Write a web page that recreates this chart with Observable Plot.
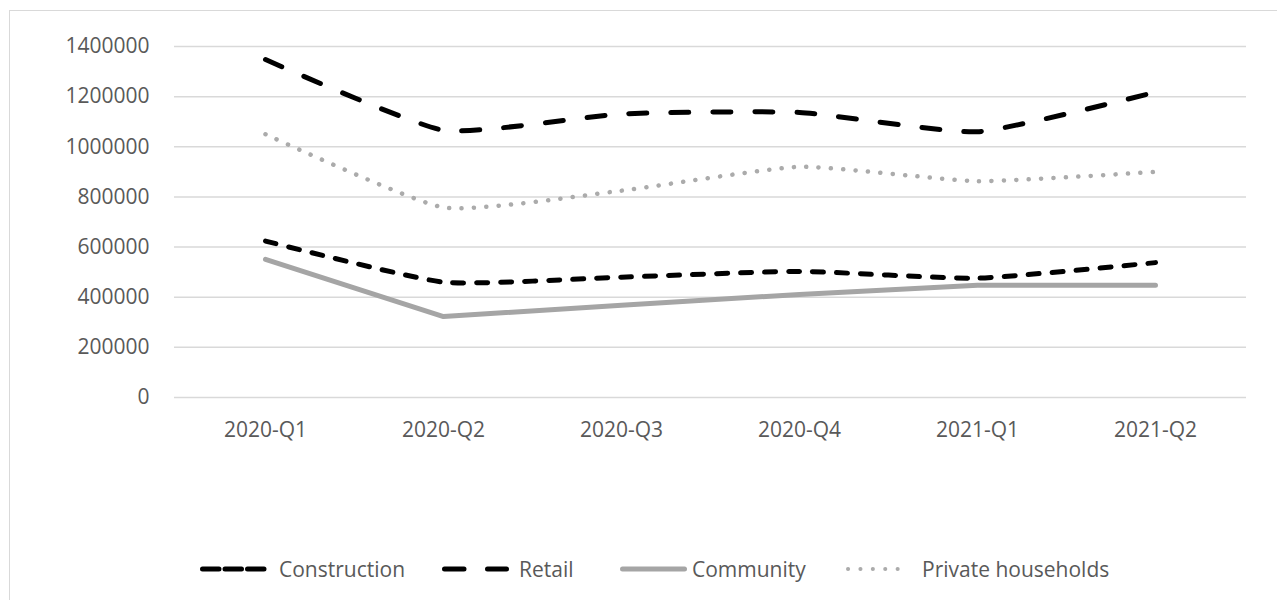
<!DOCTYPE html>
<html>
<head>
<meta charset="utf-8">
<script src="https://cdn.jsdelivr.net/npm/d3@7"></script>
<script src="https://cdn.jsdelivr.net/npm/@observablehq/plot@0.6"></script>
<style>
  html, body { margin: 0; padding: 0; background: #fff; width: 1277px; height: 600px; overflow: hidden; }
  body { position: relative; font-family: "Open Sans", sans-serif; }
  #frame { position: absolute; left: 9px; top: 10px; width: 1400px; height: 700px; border: 1.5px solid #d9d9d9; box-sizing: border-box; }
  #chart { position: absolute; left: 0; top: 0; }
  .leg { position: absolute; top: 554px; height: 30px; display: flex; align-items: center; font-size: 21px; color: #595959; white-space: nowrap; }
  .leg svg { display: block; }
</style>
</head>
<body>
<div id="frame"></div>
<div id="chart"></div>
<div id="legend"></div>
<script>
const quarters = ["2020-Q1", "2020-Q2", "2020-Q3", "2020-Q4", "2021-Q1", "2021-Q2"];
const construction = [624000, 460000, 480000, 503000, 476000, 538000];
const retail = [1348000, 1066000, 1131000, 1137000, 1060000, 1218000];
const community = [551000, 323000, 368000, 411000, 448000, 448000];
const privateHouseholds = [1050000, 758000, 825000, 920000, 863000, 900000];
const seriesNames = ["Construction", "Retail", "Community", "Private households"];
const yTicks = [0, 200000, 400000, 600000, 800000, 1000000, 1200000, 1400000];

const toRows = (vals) => quarters.map((q, i) => ({quarter: q, value: vals[i]}));

const styles = {
  "Construction": {stroke: "#000000", strokeWidth: 5, strokeDasharray: "11,13", curve: "cardinal"},
  "Retail": {stroke: "#000000", strokeWidth: 5, strokeDasharray: "18,24", curve: "cardinal"},
  "Community": {stroke: "#a5a5a5", strokeWidth: 5, strokeDasharray: null, curve: "linear"},
  "Private households": {stroke: "#ababab", strokeWidth: 4.5, strokeDasharray: "0.1,12.3", curve: "cardinal"}
};
const seriesData = {
  "Construction": toRows(construction),
  "Retail": toRows(retail),
  "Community": toRows(community),
  "Private households": toRows(privateHouseholds)
};

const lineMarks = seriesNames.map(name => {
  const s = styles[name];
  const opts = {x: "quarter", y: "value", stroke: s.stroke, strokeWidth: s.strokeWidth, curve: s.curve, strokeLinecap: "round", strokeLinejoin: "round"};
  if (s.curve === "cardinal") opts.tension = 0.5;
  if (s.strokeDasharray) opts.strokeDasharray = s.strokeDasharray;
  return Plot.line(seriesData[name], opts);
});

const chart = Plot.plot({
  width: 1277,
  height: 450,
  marginLeft: 174,
  marginRight: 31,
  marginTop: 46,
  marginBottom: 53,
  style: {fontFamily: "'Open Sans', sans-serif", fontSize: "21px", color: "#595959", background: "transparent"},
  x: {type: "point", domain: quarters, padding: 0.5, label: null},
  y: {domain: [0, 1400000], ticks: yTicks, label: null},
  marks: [
    Plot.gridY(yTicks, {stroke: "#d9d9d9", strokeOpacity: 1, strokeWidth: 1.5}),
    Plot.axisY(yTicks, {tickSize: 0, tickPadding: 25, tickFormat: d => String(d), fill: "#595959", fontSize: 21, label: null}),
    Plot.axisX({tickSize: 0, tickPadding: 25, fill: "#595959", fontSize: 21, label: null}),
    ...lineMarks
  ]
});
document.getElementById("chart").appendChild(chart);

// Legend (HTML, below the SVG plot area)
const legendPos = {
  "Construction": {left: 200, gap: 12, sample: "dash3"},
  "Retail": {left: 442, gap: 10, sample: "dash2"},
  "Community": {left: 620, gap: 5, sample: "solid"},
  "Private households": {left: 845, gap: 10, sample: "dots"}
};
const legend = document.getElementById("legend");
seriesNames.forEach(name => {
  const s = styles[name];
  const p = legendPos[name];
  const div = document.createElement("div");
  div.className = "leg";
  div.style.left = p.left + "px";
  const w = 67;
  let dash = "";
  if (p.sample === "dash3") dash = 'stroke-dasharray="16.5,6"';
  else if (p.sample === "dash2") dash = 'stroke-dasharray="19.5,23.5"';
  else if (p.sample === "dots") dash = 'stroke-dasharray="0.1,12.3"';
  const x1 = p.sample === "dots" ? 3 : 2.5;
  const x2 = p.sample === "dots" ? w - 2 : w - 2.5;
  div.innerHTML = `<svg width="${w}" height="12"><line x1="${x1}" x2="${x2}" y1="6" y2="6" stroke="${s.stroke}" stroke-width="${p.sample === 'dots' ? 4 : 5}" stroke-linecap="round" ${dash}/></svg><span style="margin-left:${p.gap}px">${name}</span>`;
  legend.appendChild(div);
});
</script>
</body>
</html>
